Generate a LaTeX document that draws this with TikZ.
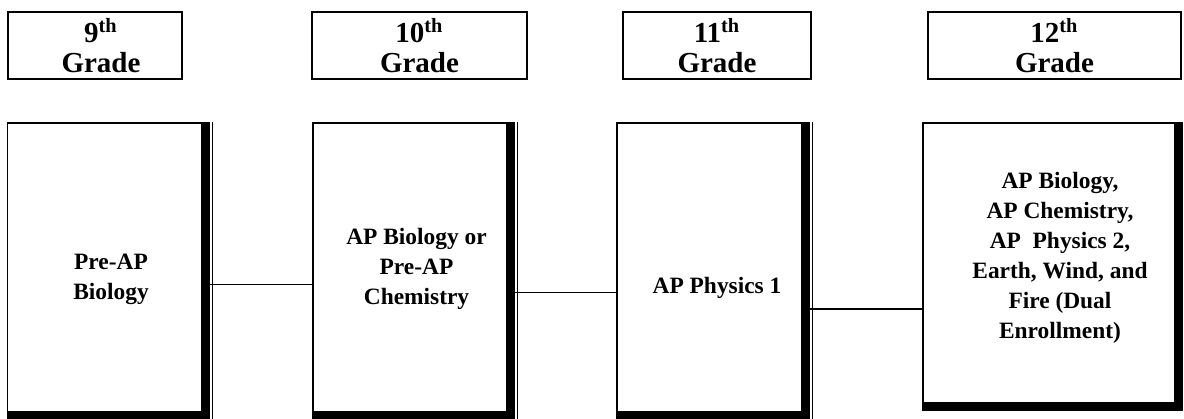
\documentclass[tikz,border=0pt]{standalone}
\usepackage{fontspec}
\setmainfont{Liberation Serif}
\begin{document}
\begin{tikzpicture}
[
	x=0.5pt,y=-0.5pt,
	gradebox/.style={draw,line width=0.9pt,inner sep=0pt,minimum height=33.5pt,align=center,font=\bfseries\fontsize{14.5}{15}\selectfont},
	coursebox/.style={draw,line width=0.85pt,inner sep=0pt,minimum height=144.5pt},
	coursetext/.style={align=center,inner sep=0pt,font=\bfseries\fontsize{11.7}{15}\selectfont},
	link/.style={line width=0.75pt},
	shadowline/.style={line width=0.6pt}
]

	\useasboundingbox (0,0) rectangle (1184,418);

	% grade headers
	\node[gradebox,minimum width=87pt] at (95,45.5) (h9) {\hspace*{6pt}9\textsuperscript{th}\\\hspace*{6pt}Grade};
	\node[gradebox,minimum width=107.5pt] at (419.5,45.5) (h10) {10\textsuperscript{th}\\Grade};
	\node[gradebox,minimum width=94pt] at (717,45.5) (h11) {11\textsuperscript{th}\\Grade};
	\node[gradebox,minimum width=126.5pt] at (1054.5,45.5) (h12) {12\textsuperscript{th}\\Grade};

	% course boxes
	\node[coursebox,minimum width=97.25pt] at (104.75,267.5) (b9) {};
	\node[coursebox,minimum width=97pt] at (409.7,267.5) (b10) {};
	\node[coursebox,minimum width=92.2pt] at (709.5,267.5) (b11) {};
	\node[coursebox,minimum width=125.85pt,minimum height=140pt] at (1049,263) (b12) {};

	\node[coursetext] at (111,279) (t9) {Pre-AP\\Biology};
	\node[coursetext] at (416.5,269) (t10) {AP Biology or\\Pre-AP\\Chemistry};
	\node[coursetext] at (717,288) (t11) {AP Physics 1};
	\node[coursetext] at (1060,258) (t12) {AP Biology,\\ AP Chemistry,\\AP~ Physics 2,\\Earth, Wind, and\\Fire (Dual\\Enrollment)};

	% connectors
	\draw[link] ([yshift=-8.4pt]b9.east) -- ([yshift=-8.4pt]b9.east -| b10.west);
	\draw[link] ([yshift=-12.6pt]b10.east) -- ([yshift=-12.6pt]b10.east -| b11.west);
	\draw[link] ([yshift=-20.75pt]b11.east) -- ([yshift=-20.75pt]b11.east -| b12.west);

	% shadows
	\fill (b9.north east) rectangle ([xshift=3.8pt,yshift=-3.8pt]b9.south east);
	\fill (b9.south west) rectangle ([xshift=3.8pt,yshift=-3.8pt]b9.south east);
	\draw[shadowline] ([xshift=5pt]b9.north east) -- ([xshift=5pt,yshift=-5pt]b9.south east);

	\fill (b10.north east) rectangle ([xshift=3.8pt,yshift=-3.8pt]b10.south east);
	\fill (b10.south west) rectangle ([xshift=3.8pt,yshift=-3.8pt]b10.south east);
	\draw[shadowline] ([xshift=5pt]b10.north east) -- ([xshift=5pt,yshift=-5pt]b10.south east);

	\fill (b11.north east) rectangle ([xshift=3.8pt,yshift=-3.8pt]b11.south east);
	\fill (b11.south west) rectangle ([xshift=3.8pt,yshift=-3.8pt]b11.south east);
	\draw[shadowline] ([xshift=5pt]b11.north east) -- ([xshift=5pt,yshift=-5pt]b11.south east);

	\fill (b12.north east) rectangle ([xshift=3.8pt,yshift=-3.8pt]b12.south east);
	\fill (b12.south west) rectangle ([xshift=3.8pt,yshift=-3.8pt]b12.south east);

\end{tikzpicture}
\end{document}
